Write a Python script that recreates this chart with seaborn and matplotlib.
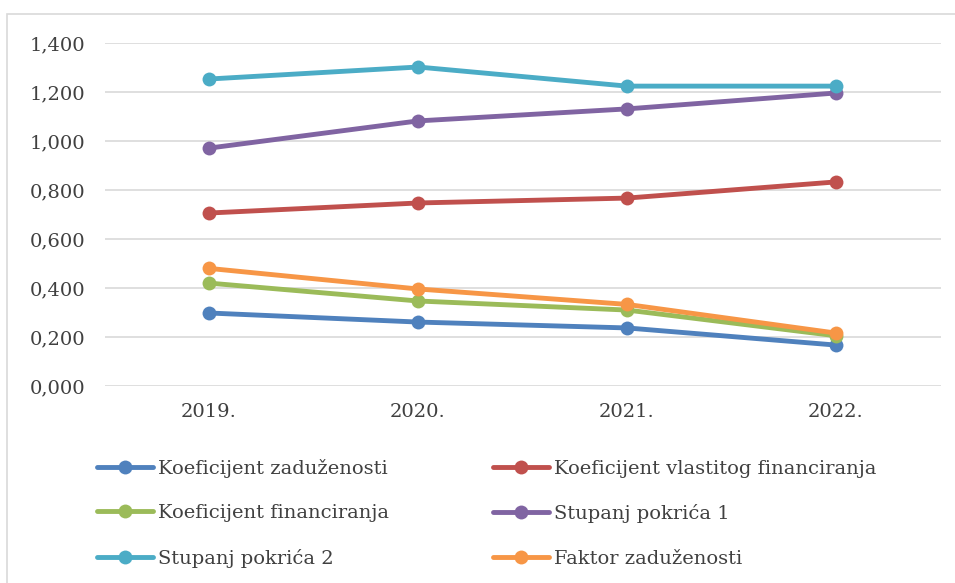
import pandas as pd
import matplotlib
matplotlib.use("Agg")
import matplotlib.pyplot as plt
from matplotlib.patches import Rectangle
from matplotlib.ticker import FuncFormatter
import seaborn as sns

years = ["2019.", "2020.", "2021.", "2022."]
koef_zaduzenosti = [0.298, 0.261, 0.237, 0.167]
koef_vlastitog = [0.706, 0.747, 0.767, 0.833]
koef_financiranja = [0.420, 0.347, 0.310, 0.205]
stupanj_1 = [0.971, 1.082, 1.131, 1.196]
stupanj_2 = [1.253, 1.302, 1.224, 1.224]
faktor_zaduzenosti = [0.480, 0.396, 0.333, 0.216]

series = {
    "Koeficijent zaduženosti": koef_zaduzenosti,
    "Koeficijent vlastitog financiranja": koef_vlastitog,
    "Koeficijent financiranja": koef_financiranja,
    "Stupanj pokrića 1": stupanj_1,
    "Stupanj pokrića 2": stupanj_2,
    "Faktor zaduženosti": faktor_zaduzenosti,
}
colors = ["#4F81BD", "#C0504D", "#9BBB59", "#8064A2", "#4BACC6", "#F79646"]

rows = []
for name, vals in series.items():
    for i, v in enumerate(vals):
        rows.append({"x": i, "year": years[i], "serija": name, "value": v})
df = pd.DataFrame(rows)

sns.set_style("white")
plt.rcParams["font.family"] = ["DejaVu Serif"]

fig = plt.figure(figsize=(9.55, 5.83), dpi=100)
ax = fig.add_axes([104.5 / 955, 1 - 386 / 583, 836 / 955, 343 / 583])

sns.lineplot(data=df, x="x", y="value", hue="serija", palette=colors,
             marker="o", markersize=10, markeredgewidth=0, linewidth=3.5,
             ax=ax, legend=True)

ax.set_xlim(-0.5, 3.5)
ax.set_ylim(0, 1.4)
ax.set_yticks([0, 0.2, 0.4, 0.6, 0.8, 1.0, 1.2, 1.4])
ax.yaxis.set_major_formatter(FuncFormatter(lambda v, p: f"{v:.3f}".replace(".", ",")))
ax.set_xticks(range(len(years)))
ax.set_xticklabels(years)
ax.tick_params(axis="both", labelsize=14, colors="#404040", length=0)
ax.tick_params(axis="y", pad=14)
ax.tick_params(axis="x", pad=12)
ax.set_xlabel("")
ax.set_ylabel("")
ax.grid(axis="y", color="#D9D9D9", linewidth=1.2)
ax.set_axisbelow(True)
for s in ax.spines.values():
    s.set_visible(False)

# legend is filled row by row in the reference
handles, labels = ax.get_legend_handles_labels()
order = [0, 2, 4, 1, 3, 5]
ax.legend([handles[i] for i in order], [labels[i] for i in order],
          loc="upper left", bbox_to_anchor=(89 / 955, 1 - 451 / 583),
          bbox_transform=fig.transFigure, ncol=2, frameon=False, fontsize=14,
          handlelength=2.9, handletextpad=0.25, columnspacing=5.35, labelspacing=1.36,
          labelcolor="#404040", borderaxespad=0)

fig.patches.append(Rectangle((7 / 955, -0.1), 1.2, 1 - 14 / 583 + 0.1,
                             transform=fig.transFigure, fill=False,
                             edgecolor="#D9D9D9", linewidth=1.2))

fig.savefig("out.png", dpi=100)
